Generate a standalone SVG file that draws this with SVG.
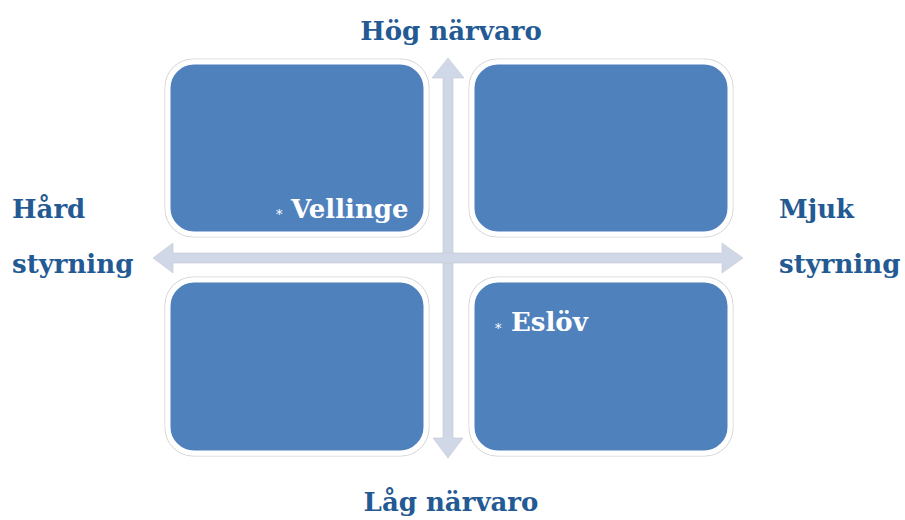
<svg xmlns="http://www.w3.org/2000/svg" width="905" height="520" viewBox="0 0 905 520">
<style>
.box{fill:#4F81BD;stroke:#ffffff;stroke-width:5}
.frame{fill:none;stroke:#d4d4d4;stroke-width:1}
.arrow{fill:#D0D8E8;stroke:#c4c8d0;stroke-width:0.6}
.lbl{font-family:"DejaVu Serif","Liberation Serif",serif;font-weight:bold;font-size:26px;fill:#245A93}
.in{font-family:"DejaVu Serif","Liberation Serif",serif;font-weight:bold;font-size:26px;fill:#ffffff}
.ast{font-family:"DejaVu Serif","Liberation Serif",serif;font-size:13px;fill:#ffffff}
</style>
<rect width="905" height="520" fill="#ffffff"/>
<g id="quadrants">
<g id="q-top-left"><rect class="frame" x="165" y="59" width="264" height="178" rx="28"/><rect class="box" x="168" y="62" width="258" height="172" rx="26"/></g>
<g id="q-top-right"><rect class="frame" x="469" y="59" width="264" height="178" rx="28"/><rect class="box" x="472" y="62" width="258" height="172" rx="26"/></g>
<g id="q-bottom-left"><rect class="frame" x="165" y="277" width="264" height="179" rx="28"/><rect class="box" x="168" y="280" width="258" height="173" rx="26"/></g>
<g id="q-bottom-right"><rect class="frame" x="469" y="277" width="264" height="179" rx="28"/><rect class="box" x="472" y="280" width="258" height="173" rx="26"/></g>
</g>
<g id="connectors">
<polygon class="arrow" points="448,58 464,78 453,78 453,438 463,438 448,458 433,438 443,438 443,78 432,78"/>
<polygon class="arrow" points="153,258 173,243 173,253 722,253 722,243 743,258 722,273 722,263 173,263 173,273"/>
<rect x="443" y="253.5" width="10" height="9" fill="#D0D8E8"/>
</g>
<g id="labels">
<text class="lbl" x="451" y="40" text-anchor="middle">Hög närvaro</text>
<text class="lbl" x="451" y="511" text-anchor="middle">Låg närvaro</text>
<text class="lbl" x="12" y="218">Hård</text>
<text class="lbl" x="12" y="273">styrning</text>
<text class="lbl" x="779" y="218">Mjuk</text>
<text class="lbl" x="779" y="273">styrning</text>
</g>
<g id="items">
<text class="ast" x="276" y="219">*</text>
<text class="in" x="291" y="218">Vellinge</text>
<text class="ast" x="495" y="333">*</text>
<text class="in" x="511" y="331">Eslöv</text>
</g>
</svg>
